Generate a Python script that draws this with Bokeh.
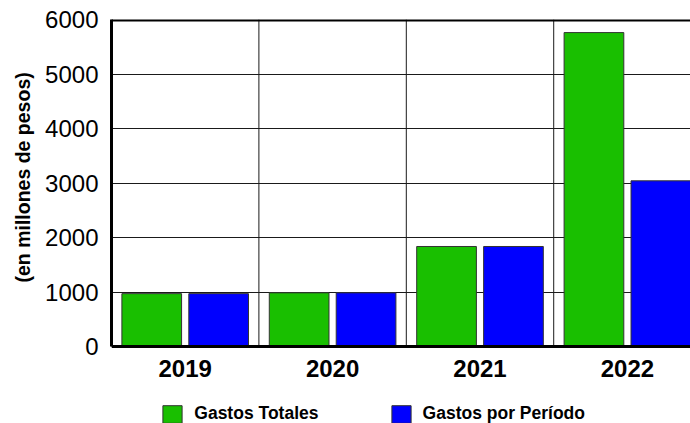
from bokeh.plotting import figure
from bokeh.models import Span, FixedTicker, Legend, LegendItem, Range1d, Title
from bokeh.embed import file_html
from bokeh.resources import INLINE
import numpy as np

years = ["2019", "2020", "2021", "2022"]
gastos_totales = [970, 985, 1835, 5760]
gastos_periodo = [970, 985, 1835, 3040]
y_ticks = [0, 1000, 2000, 3000, 4000, 5000, 6000]
series_names = ["Gastos Totales", "Gastos por Período"]
y_label = "(en millones de pesos)"

FONT = "Liberation Sans"
idx = np.arange(len(years))

# frame: top at 19px (6000), value 0 at 346px, frame extends to bottom of canvas (423px)
units_per_px = (y_ticks[-1] - y_ticks[0]) / (346 - 19)
y_start = -(423 - 346) * units_per_px

p = figure(width=690, height=423, output_backend="svg", toolbar_location=None,
           x_range=Range1d(0, 3.928), y_range=Range1d(y_start, y_ticks[-1]),
           min_border_left=110, min_border_right=0, min_border_top=19,
           min_border_bottom=0, background_fill_color="white")
p.outline_line_color = None

# vertical grid lines between categories (only within the value range)
p.segment(x0=idx, y0=[y_ticks[0]] * len(idx), x1=idx, y1=[y_ticks[-1]] * len(idx),
          line_color="#1a1a1a", line_width=1)

g = p.vbar(x=idx + 0.5 - 0.227, top=gastos_totales, width=0.405,
           fill_color="#19bf00", line_color="#333333", line_width=1)
b = p.vbar(x=idx + 0.5 + 0.227, top=gastos_periodo, width=0.405,
           fill_color="#0000ff", line_color="#333333", line_width=1)

p.xgrid.visible = False
p.ygrid.ticker = FixedTicker(ticks=y_ticks)
p.ygrid.grid_line_color = "#1a1a1a"
p.ygrid.grid_line_width = 1

p.add_layout(Span(location=y_ticks[-1], dimension="width", line_color="black", line_width=4))

xa = p.xaxis[0]
xa.fixed_location = 0
xa.ticker = FixedTicker(ticks=[float(i) + 0.5 for i in idx])
xa.major_label_overrides = {float(i) + 0.5: y for i, y in zip(idx, years)}
xa.major_tick_out = 0
xa.major_tick_in = 0
xa.minor_tick_out = 0
xa.minor_tick_in = 0
xa.axis_line_width = 3
xa.axis_line_color = "black"
xa.major_label_text_font = FONT
xa.major_label_text_font_style = "bold"
xa.major_label_text_font_size = "24px"
xa.major_label_text_color = "black"
xa.major_label_standoff = 13

ya = p.yaxis[0]
ya.bounds = (y_ticks[0], y_ticks[-1])
ya.ticker = FixedTicker(ticks=y_ticks)
ya.major_tick_out = 0
ya.major_tick_in = 0
ya.minor_tick_out = 0
ya.minor_tick_in = 0
ya.axis_line_width = 3
ya.axis_line_color = "black"
ya.major_label_text_font = FONT
ya.major_label_text_font_size = "24px"
ya.major_label_text_color = "black"
ya.major_label_standoff = 13

p.add_layout(Title(text=y_label, align="left", offset=141, standoff=18,
                   text_font=FONT, text_font_style="bold",
                   text_font_size="19.5px", text_color="black"), "left")


def make_legend(label, rend, x):
    return Legend(items=[LegendItem(label=label, renderers=[rend])],
                  location=(x, -1.8), padding=0, margin=0,
                  border_line_color=None, background_fill_alpha=0,
                  glyph_width=24, glyph_height=22, label_standoff=10,
                  label_height=22,
                  label_text_font=FONT, label_text_font_style="bold",
                  label_text_font_size="17.5px", label_text_color="black")


p.add_layout(make_legend(series_names[0], g, 49.3))
p.add_layout(make_legend(series_names[1], b, 277.6))

open("out.html", "w").write(file_html(p, INLINE))
